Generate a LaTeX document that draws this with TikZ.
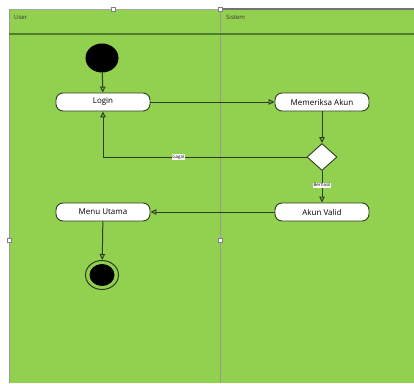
\documentclass[tikz,border=0pt]{standalone}
\usepackage{fontspec}
\setmainfont{Open Sans}
\usetikzlibrary{arrows.meta, shapes.geometric, calc}
\definecolor{lanegreen}{HTML}{92D050}
\definecolor{linecol}{HTML}{2E3D1E}
\definecolor{headcol}{HTML}{4F7F2C}

\begin{document}
\begin{tikzpicture}[x=1pt, y=-1pt,
    act/.style={draw=linecol, fill=white, rounded corners=7pt, line width=0.9pt,
      minimum width=94pt, minimum height=18pt, inner sep=0pt, font=\fontsize{8}{9}\selectfont},
    flow/.style={draw=linecol, line width=1pt, -{Triangle[open, length=6pt, width=5.5pt]}},
    tag/.style={fill=white, inner sep=0.6pt, font=\fontsize{4.5}{5}\selectfont},
    lane/.style={font=\fontsize{6}{7}\selectfont, text=black!80, anchor=west, inner sep=0pt},
    handle/.style={draw=gray, fill=white, minimum size=4pt, inner sep=0pt, line width=0.4pt}]
            \useasboundingbox (0,0) rectangle (414,383);
            % swimlanes
            \fill[lanegreen] (9,9) rectangle (414,383);
            \draw[gray!70, line width=0.8pt] (9,9) -- (220,9);
            \draw[gray!90!black, line width=1.4pt] (220,9) -- (414,9);
            \draw[gray!80, line width=1pt] (9,9) -- (9,383);
            \draw[gray!80, line width=0.8pt] (220,9) -- (220,383);
            \draw[headcol, line width=1.3pt] (9,34) -- (414,34);
            \node[lane] (laneUser) at (14,17) {User};
            \node[lane] (laneSistem) at (226,17) {Sistem};
            \foreach \hx/\hy in {113/9, 220/9, 9/240, 220/240}
              \node[handle] at (\hx,\hy) {};

            % activity nodes
            \node[ellipse, fill=black, minimum width=33pt, minimum height=29pt, inner sep=0pt] (start) at (102,58) {};
            \node[act] (login) at (103,102) {Login};
            \node[act] (cek) at (322,102) {Memeriksa Akun};
            \node[diamond, draw=linecol, fill=white, line width=0.9pt, minimum width=30pt, minimum height=27pt, inner sep=0pt] (pilih) at (322,157) {};
            \node[act] (valid) at (322,212) {Akun Valid};
            \node[act] (menu) at (103,212) {Menu Utama};
            \node[ellipse, draw=linecol, line width=1pt, minimum width=33pt, minimum height=29pt, inner sep=0pt] (finish) at (102,275) {};
            \fill[black] (finish.center) ellipse (12.5pt and 11pt);

            % transitions
            \draw[flow] (start) -- (login);
            \draw[flow] (login) -- (cek);
            \draw[flow] (cek) -- (pilih);
            \draw[flow] (pilih.west) -- (login.south |- pilih.west) node[tag, pos=0.63] {Gagal} -- (login.south);
            \draw[flow] (pilih) -- node[tag, pos=0.45] {Berhasil} (valid);
            \draw[flow] (valid) -- (menu);
            \draw[flow] (menu) -- (finish);
        \end{tikzpicture}
\end{document}
